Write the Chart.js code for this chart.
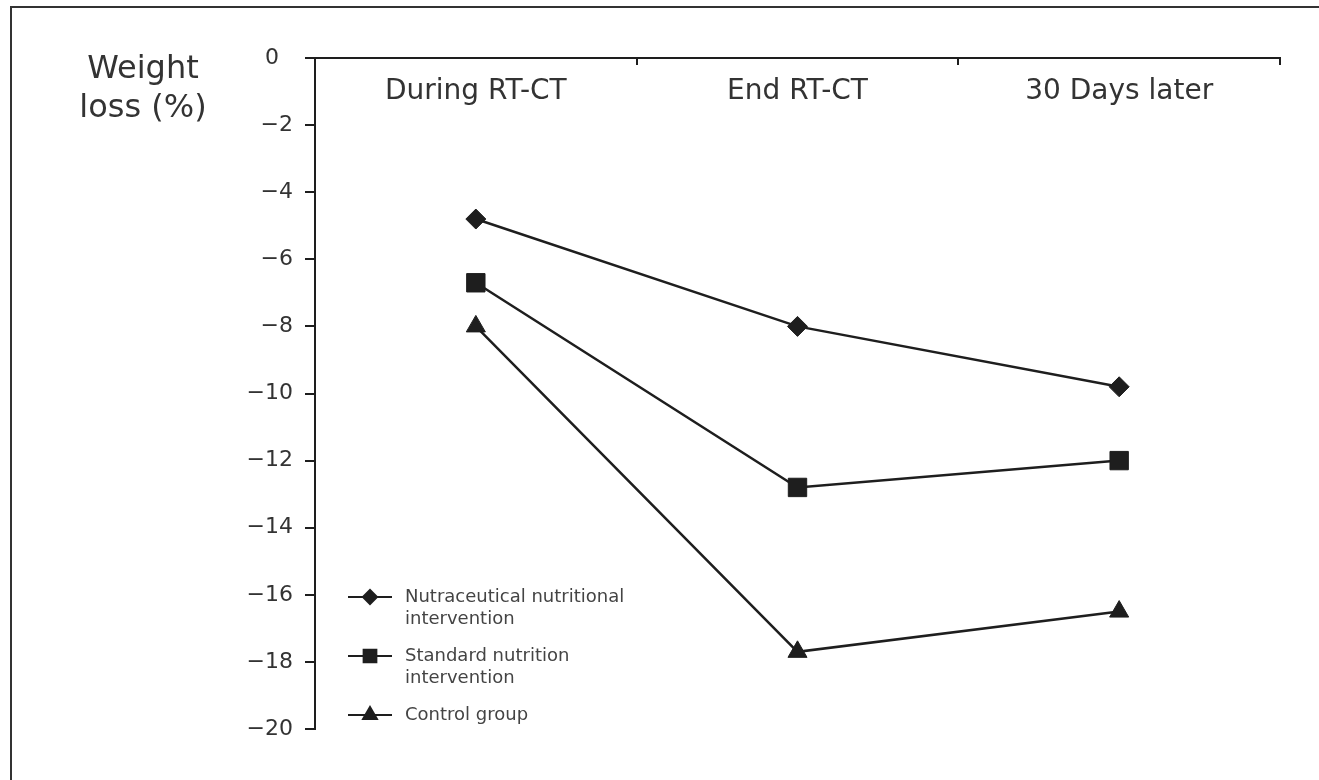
<!DOCTYPE html>
<html><head><meta charset="utf-8">
<script src="https://cdn.jsdelivr.net/npm/chart.js@4.4.1/dist/chart.umd.min.js"></script>
<style>
html,body{margin:0;padding:0;background:#fff;overflow:hidden}
#wrap{position:relative;width:1319px;height:780px;overflow:hidden}
#frame{position:absolute;left:10px;top:6px;width:1400px;height:900px;border:2px solid #333;box-sizing:border-box}
canvas{position:absolute;left:0;top:0}
</style></head><body>
<div id="wrap"><div id="frame"></div><canvas id="c" width="1319" height="780"></canvas></div>
<script>
const categories = ['During RT-CT', 'End RT-CT', '30 Days later'];
const seriesNames = [['Nutraceutical nutritional', 'intervention'], ['Standard nutrition', 'intervention'], ['Control group']];
const nutraceutical = [-4.8, -8.0, -9.8];
const standard = [-6.7, -12.8, -12.0];
const control = [-8.0, -17.7, -16.5];
const yTicks = [0, -2, -4, -6, -8, -10, -12, -14, -16, -18, -20];
const yTitle = ['Weight', 'loss (%)'];

const INK = '#1e1e1e';
const FONT = 'DejaVu Sans';
const Y_W = 80, X_H = 20;

const titlePlugin = {
  id: 'yTitle',
  afterDraw(chart) {
    const ctx = chart.ctx;
    ctx.save();
    ctx.font = '32px "' + FONT + '"';
    ctx.fillStyle = '#333';
    ctx.textAlign = 'center';
    ctx.textBaseline = 'alphabetic';
    yTitle.forEach((t, i) => ctx.fillText(t, 143, 78 + i * 39));
    ctx.restore();
  }
};

const legendPlugin = {
  id: 'innerLegend',
  afterDraw(chart) {
    const ctx = chart.ctx;
    ctx.save();
    let y = 597;
    const radii = [7, 9, 8];
    chart.data.datasets.forEach((ds, i) => {
      ctx.strokeStyle = INK;
      ctx.lineWidth = 2;
      ctx.beginPath();
      ctx.moveTo(348, y);
      ctx.lineTo(392, y);
      ctx.stroke();
      ctx.fillStyle = INK;
      Chart.helpers.drawPoint(ctx, {pointStyle: ds.pointStyle, radius: radii[i], borderWidth: 1}, 370, y);
      ctx.font = '18px "' + FONT + '"';
      ctx.fillStyle = '#444';
      ctx.textAlign = 'left';
      ctx.textBaseline = 'middle';
      const lines = seriesNames[i];
      lines.forEach((t, j) => ctx.fillText(t, 405, y + j * 22));
      y += lines.length * 22 + 15;
    });
    ctx.restore();
  }
};

function mkDs(label, data, style, r) {
  return {
    label: label, data: data,
    borderColor: INK, backgroundColor: INK, borderWidth: 2.5,
    pointStyle: style, pointRadius: r, pointBackgroundColor: INK, pointBorderColor: INK,
    pointBorderWidth: 1, tension: 0, fill: false
  };
}

new Chart(document.getElementById('c'), {
  type: 'line',
  data: {
    labels: categories,
    datasets: [
      mkDs(seriesNames[0].join(' '), nutraceutical, 'rectRot', 10),
      mkDs(seriesNames[1].join(' '), standard, 'rect', 13),
      mkDs(seriesNames[2].join(' '), control, 'triangle', 11)
    ]
  },
  options: {
    responsive: false,
    animation: false,
    layout: {padding: {left: 315 - Y_W, top: 58 - X_H, right: 39, bottom: 51}},
    plugins: {legend: {display: false}, tooltip: {enabled: false}},
    scales: {
      x: {
        type: 'category', position: 'top', offset: true,
        grid: {offset: true, drawOnChartArea: false, drawTicks: true, tickLength: -7, color: INK, lineWidth: 2},
        border: {display: true, color: INK, width: 2},
        ticks: {mirror: true, padding: 17, font: {family: FONT, size: 28}, color: '#333', maxRotation: 0, minRotation: 0, autoSkip: false},
        afterFit(s) { s.height = X_H; }
      },
      y: {
        min: -20, max: 0,
        afterBuildTicks(s) { s.ticks = yTicks.map(v => ({value: v})); },
        grid: {drawOnChartArea: false, tickLength: 10, color: INK, lineWidth: 2},
        border: {display: true, color: INK, width: 2},
        ticks: {
          padding: 12, font: {family: FONT, size: 22}, color: '#333',
          callback: v => v === 0 ? '0  ' : '\u2212' + Math.abs(v)
        },
        afterFit(s) { s.width = Y_W; }
      }
    }
  },
  plugins: [titlePlugin, legendPlugin]
});
</script>
</body></html>
